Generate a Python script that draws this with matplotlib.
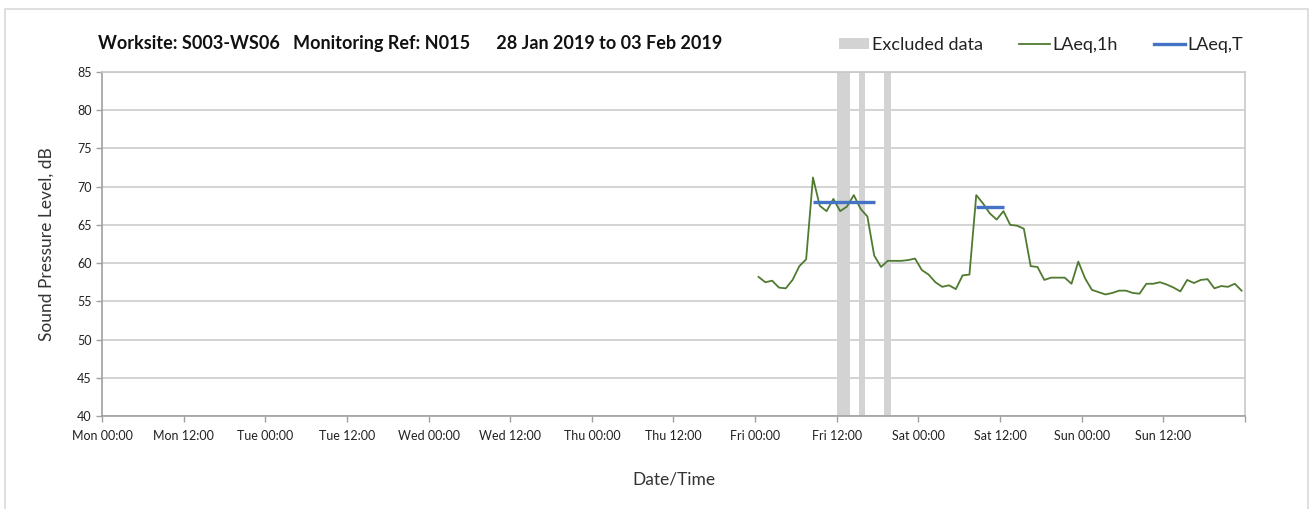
import numpy as np
import matplotlib
matplotlib.use("Agg")
import matplotlib.pyplot as plt
from matplotlib.lines import Line2D
from matplotlib.patches import Patch, Rectangle

plt.rcParams["font.family"] = ["Lato", "DejaVu Sans"]

# ── Data ─────────────────────────────────────────────────────────────────────
# hours since Mon 00:00 (one reading per hour, plotted mid-hour)
laeq_1h_hours = np.arange(96.5, 168, 1.0)
laeq_1h = [
    58.2, 57.5, 57.7, 56.8, 56.7, 57.8, 59.6, 60.5, 71.2, 67.5, 66.8, 68.4,
    66.8, 67.4, 68.9, 67.1, 66.1, 61.0, 59.5, 60.3, 60.3, 60.3, 60.4, 60.6,
    59.1, 58.5, 57.5, 56.9, 57.1, 56.6, 58.4, 58.5, 68.9, 67.8, 66.5, 65.7,
    66.8, 65.0, 64.9, 64.5, 59.6, 59.5, 57.8, 58.1, 58.1, 58.1, 57.3, 60.2,
    58.0, 56.5, 56.2, 55.9, 56.1, 56.4, 56.4, 56.1, 56.0, 57.3, 57.3, 57.5,
    57.2, 56.8, 56.3, 57.8, 57.4, 57.8, 57.9, 56.7, 57.0, 56.9, 57.3, 56.4,
]

# LAeq,T periods: start hour, end hour, level
laeq_t_start = [104.5, 128.5]
laeq_t_end = [113.6, 132.6]
laeq_t_level = [68.0, 67.3]

# excluded periods: start hour, end hour
excluded_start = [108.1, 111.2, 115.0]
excluded_end = [110.0, 112.1, 116.0]

day_names = ["Mon", "Tue", "Wed", "Thu", "Fri", "Sat", "Sun"]
tick_labels = [f"{d} {t}" for d in day_names for t in ("00:00", "12:00")] + [""]

title = "Worksite: S003-WS06   Monitoring Ref: N015      28 Jan 2019 to 03 Feb 2019"

GREEN = "#4F7A30"
BLUE = "#4472C4"
EXCL = "#D3D3D3"

# ── Plot ─────────────────────────────────────────────────────────────────────
fig = plt.figure(figsize=(13.09, 5.09), dpi=100)
ax = fig.add_axes([0.0779, 0.1827, 0.8732, 0.6758])

for s, e in zip(excluded_start, excluded_end):
    ax.axvspan(s, e, color=EXCL, lw=0, zorder=1)

ax.plot(laeq_1h_hours, laeq_1h, color=GREEN, lw=1.3, zorder=3)
for s, e, lv in zip(laeq_t_start, laeq_t_end, laeq_t_level):
    ax.plot([s, e], [lv, lv], color=BLUE, lw=2.4, zorder=4, solid_capstyle="butt")

ax.set_xlim(0, 168)
ax.set_ylim(40, 85)
ax.set_yticks(np.arange(40, 86, 5))
ax.set_xticks(np.arange(0, 169, 12))
ax.set_xticklabels(tick_labels)
ax.set_xticks(np.arange(0, 169, 24), minor=True)

ax.grid(axis="y", which="major", color="#D0D0D0", lw=1.3)
ax.grid(axis="x", which="minor", color="#E2E2E2", lw=1.3)
ax.set_axisbelow(True)

ax.tick_params(axis="both", which="major", length=4, width=1, color="#A0A0A0",
               labelsize=9, labelcolor="#222222")
ax.tick_params(axis="x", which="major", pad=6)
ax.tick_params(axis="x", which="minor", length=0)

for side in ("left", "bottom"):
    ax.spines[side].set_color("#A0A0A0")
for side in ("top", "right"):
    ax.spines[side].set_color("#C8C8C8")
for sp in ax.spines.values():
    sp.set_linewidth(1.2)

ax.set_ylabel("Sound Pressure Level, dB", fontsize=12.5, color="#333333", labelpad=16)
ax.set_xlabel("Date/Time", fontsize=12.5, color="#333333", labelpad=21)

fig.text(0.0749, 0.915, title, fontsize=13, fontweight="bold", color="#111111",
         ha="left", va="center")

handles = [
    Patch(facecolor=EXCL, edgecolor="none", label="Excluded data"),
    Line2D([0], [0], color=GREEN, lw=1.3, label="LAeq,1h"),
    Line2D([0], [0], color=BLUE, lw=2.4, label="LAeq,T"),
]
fig.legend(handles=handles, loc="center right", bbox_to_anchor=(0.962, 0.912),
           ncol=3, frameon=False, fontsize=13, handlelength=1.7, handleheight=0.55,
           handletextpad=0.15, columnspacing=2.0, labelcolor="#222222")

fig.add_artist(Rectangle((0.004, -0.01), 0.995, 0.992, transform=fig.transFigure,
                         fill=False, edgecolor="#D9D9D9", lw=1.2))

fig.savefig("out.png", dpi=100)
